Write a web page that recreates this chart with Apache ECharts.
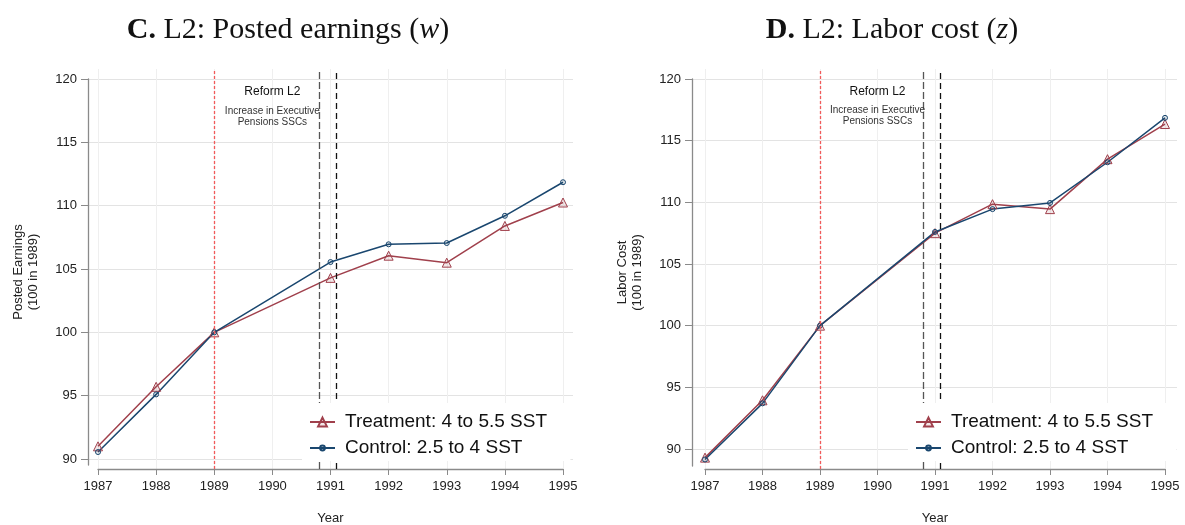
<!DOCTYPE html>
<html>
<head>
<meta charset="utf-8">
<script src="https://cdn.jsdelivr.net/npm/echarts@6/dist/echarts.min.js"></script>
<style>
  html, body { margin: 0; padding: 0; background: #fff; }
  #chart { width: 1185px; height: 525px; }
</style>
</head>
<body>
<div id="chart"></div>
<script>
const years = [1987, 1988, 1989, 1991, 1992, 1993, 1994, 1995]
const earningsTreatment = [91.0, 95.7, 100, 104.3, 106.05, 105.5, 108.4, 110.25]
const earningsControl = [90.55, 95.1, 100, 105.55, 106.95, 107.05, 109.2, 111.85]
const costTreatment = [89.3, 93.95, 100, 107.5, 109.85, 109.45, 113.5, 116.35]
const costControl = [89.15, 93.7, 100, 107.6, 109.45, 109.95, 113.25, 116.85]

const seriesNames = ['Treatment: 4 to 5.5 SST', 'Control: 2.5 to 4 SST']
const yearRange = [1987, 1995]
const valueRange = [90, 120]
const valueStep = 5

// vertical reference lines (year positions)
const policyYear = 1989
const reformLines = [1990.8, 1991.1]
const reformLabelX = 1990
const reformLabelY = [119.0, 117.0]

const RED = '#a0404c'
const BLUE = '#1a476f'
const AXIS = '#8a8a8a'
const LABEL = '#222'

// pixel layout of each panel
const panels = [
  {
    title: '{b|C.} L2: Posted earnings ({i|w})',
    titleX: 288,
    yName: 'Posted Earnings\n(100 in 1989)',
    treat: earningsTreatment,
    control: earningsControl,
    plotLeft: 88, plotRight: 573,
    axisLeft: 98, axisRight: 563,
    y90: 459, dataBottom: 465,
    legendLeft: 302,
  },
  {
    title: '{b|D.} L2: Labor cost ({i|z})',
    titleX: 892,
    yName: 'Labor Cost\n(100 in 1989)',
    treat: costTreatment,
    control: costControl,
    plotLeft: 692, plotRight: 1177,
    axisLeft: 705, axisRight: 1165,
    y90: 449, dataBottom: 466,
    legendLeft: 908,
  },
]

const TOP = 79 // pixel of 120
const GRID_TOP = 69
const AXIS_Y = 469

const grid = []
const xAxis = []
const yAxis = []
const series = []
const legend = []
const graphic = []

const noBounds = { containLabel: false, outerBoundsMode: 'none' }

panels.forEach((p, i) => {
  const g = i * 3
  const pxPerYear = (p.axisRight - p.axisLeft) / (yearRange[1] - yearRange[0])
  const pxPerUnit = (p.y90 - TOP) / (valueRange[1] - valueRange[0])
  const xMin = yearRange[0] - (p.axisLeft - p.plotLeft) / pxPerYear
  const xMax = yearRange[1] + (p.plotRight - p.axisRight) / pxPerYear
  const yMin = valueRange[0] - (p.dataBottom - p.y90) / pxPerUnit

  // plot area for the data
  grid.push({ left: p.plotLeft, top: TOP, width: p.plotRight - p.plotLeft, height: p.dataBottom - TOP, ...noBounds })
  // year axis with vertical grid lines
  grid.push({ left: p.axisLeft, top: GRID_TOP, width: p.axisRight - p.axisLeft, height: AXIS_Y - GRID_TOP, ...noBounds })
  // value labels with horizontal grid lines
  grid.push({ left: p.plotLeft, top: TOP, width: p.plotRight - p.plotLeft, height: p.y90 - TOP, ...noBounds })

  xAxis.push({ gridIndex: g, type: 'value', min: xMin, max: xMax, show: false })
  xAxis.push({
    gridIndex: g + 1, type: 'value', min: yearRange[0], max: yearRange[1], interval: 1,
    name: 'Year', nameLocation: 'middle', nameGap: 43,
    nameTextStyle: { fontSize: 13, color: LABEL },
    axisLine: { show: true, lineStyle: { color: AXIS, width: 1.3 } },
    axisTick: { show: true, length: 6, lineStyle: { color: AXIS } },
    axisLabel: { fontSize: 13, color: LABEL, margin: 11, formatter: (v) => String(v) },
    splitLine: { show: true, lineStyle: { color: '#efefef', width: 1 } },
  })
  xAxis.push({ gridIndex: g + 2, type: 'value', min: 0, max: 1, show: false })

  yAxis.push({
    gridIndex: g, type: 'value', min: yMin, max: valueRange[1],
    name: p.yName, nameLocation: 'middle', nameGap: 47,
    nameTextStyle: { fontSize: 13, lineHeight: 15, color: LABEL },
    axisLine: { show: true, lineStyle: { color: AXIS, width: 1.3 } },
    axisTick: { show: false }, axisLabel: { show: false }, splitLine: { show: false },
  })
  yAxis.push({ gridIndex: g + 1, type: 'value', min: 0, max: 1, show: false })
  yAxis.push({
    gridIndex: g + 2, type: 'value', min: valueRange[0], max: valueRange[1], interval: valueStep,
    axisLine: { show: false },
    axisTick: { show: true, length: 7, lineStyle: { color: AXIS } },
    axisLabel: { fontSize: 13, color: LABEL, margin: 11 },
    splitLine: { show: true, lineStyle: { color: '#e3e3e3', width: 1 } },
  })

  // reference lines across the full plot height
  series.push({
    type: 'line', xAxisIndex: g + 1, yAxisIndex: g + 1, data: [], silent: true, z: 2,
    markLine: {
      silent: true, symbol: 'none', animation: false, label: { show: false },
      data: [
        { xAxis: policyYear, lineStyle: { color: '#f25a5a', type: [3, 2], width: 1.3 } },
        { xAxis: reformLines[0], lineStyle: { color: '#555', type: [7, 3], width: 1.3 } },
        { xAxis: reformLines[1], lineStyle: { color: '#111', type: [6, 4], width: 1.3 } },
      ],
    },
  })

  series.push({
    name: seriesNames[0], type: 'line', xAxisIndex: g, yAxisIndex: g, z: 4,
    data: years.map((yr, k) => [yr, p.treat[k]]),
    symbol: 'triangle', symbolSize: 9,
    lineStyle: { color: RED, width: 1.5 },
    itemStyle: { color: 'rgba(160,64,76,0.12)', borderColor: RED, borderWidth: 1 },
    markPoint: {
      silent: true, symbol: 'circle', symbolSize: 0, animation: false,
      data: [
        {
          coord: [reformLabelX, reformLabelY[0]],
          label: { show: true, position: 'inside', formatter: 'Reform L2', fontSize: 12, color: '#111' },
        },
        {
          coord: [reformLabelX, reformLabelY[1]],
          label: {
            show: true, position: 'inside', formatter: 'Increase in Executive\nPensions SSCs',
            fontSize: 10, lineHeight: 11, color: '#333', align: 'center',
          },
        },
      ],
    },
  })
  series.push({
    name: seriesNames[1], type: 'line', xAxisIndex: g, yAxisIndex: g, z: 4,
    data: years.map((yr, k) => [yr, p.control[k]]),
    symbol: 'circle', symbolSize: 5,
    lineStyle: { color: BLUE, width: 1.5 },
    itemStyle: { color: 'rgba(26,71,111,0.12)', borderColor: BLUE, borderWidth: 1 },
  })

  // one legend per row so each row keeps its own marker size; white boxes hide the lines behind
  const legendText = { fontSize: 19, lineHeight: 22, color: '#111', padding: [0, 0, 0, 5] }
  legend.push({
    orient: 'vertical', left: p.legendLeft, top: 403,
    padding: [8, 23, 2, 7], backgroundColor: '#fff', z: 10,
    itemWidth: 25, itemHeight: 11, selectedMode: false,
    textStyle: legendText, data: [seriesNames[0]],
  })
  legend.push({
    orient: 'vertical', left: p.legendLeft, top: 435,
    padding: [2, 48, 2, 7], backgroundColor: '#fff', z: 10,
    itemWidth: 25, itemHeight: 6, selectedMode: false,
    textStyle: legendText, data: [seriesNames[1]],
  })

  graphic.push({
    type: 'text', x: p.titleX, y: 30, silent: true,
    style: {
      text: p.title, align: 'center', verticalAlign: 'middle',
      fontFamily: 'Liberation Serif', fontSize: 30, fill: '#111',
      rich: {
        b: { fontFamily: 'Liberation Serif', fontSize: 30, fontWeight: 'bold', fill: '#111' },
        i: { fontFamily: 'Liberation Serif', fontSize: 30, fontStyle: 'italic', fill: '#111' },
      },
    },
  })
})

const chart = echarts.init(document.getElementById('chart'))
chart.setOption({
  animation: false,
  backgroundColor: '#fff',
  textStyle: { fontFamily: 'Liberation Sans, Arial, sans-serif' },
  grid,
  xAxis,
  yAxis,
  series,
  legend,
  graphic,
})
</script>
</body>
</html>
